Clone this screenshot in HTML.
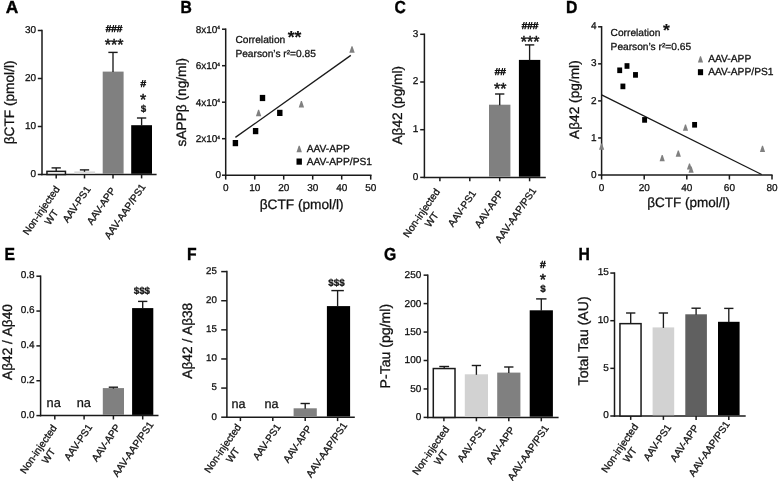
<!DOCTYPE html>
<html><head><meta charset="utf-8"><title>Figure</title>
<style>
html,body{margin:0;padding:0;background:#fff;}
body{width:778px;height:481px;overflow:hidden;font-family:"Liberation Sans", sans-serif;}
svg{display:block;font-family:"Liberation Sans", sans-serif;filter:grayscale(1);}
</style></head><body>
<svg width="778" height="481" viewBox="0 0 778 481" text-rendering="geometricPrecision">
<rect width="778" height="481" fill="#fff"/>
<text transform="translate(5.70,12.90) scale(1.0,1.0)" font-size="17.4" font-weight="bold" fill="#000" stroke="#000" stroke-width="0.4">A</text>
<line x1="42.00" y1="175.25" x2="42.00" y2="29.75" stroke="#1a1a1a" stroke-width="1.5"/>
<line x1="37.80" y1="174.50" x2="42.00" y2="174.50" stroke="#1a1a1a" stroke-width="1.5"/>
<text x="36.00" y="176.70" font-size="10.0" text-anchor="end" font-weight="normal" fill="#111" stroke="#111" stroke-width="0.28" >0</text>
<line x1="37.80" y1="126.50" x2="42.00" y2="126.50" stroke="#1a1a1a" stroke-width="1.5"/>
<text x="36.00" y="128.70" font-size="10.0" text-anchor="end" font-weight="normal" fill="#111" stroke="#111" stroke-width="0.28" >10</text>
<line x1="37.80" y1="78.50" x2="42.00" y2="78.50" stroke="#1a1a1a" stroke-width="1.5"/>
<text x="36.00" y="80.70" font-size="10.0" text-anchor="end" font-weight="normal" fill="#111" stroke="#111" stroke-width="0.28" >20</text>
<line x1="37.80" y1="30.50" x2="42.00" y2="30.50" stroke="#1a1a1a" stroke-width="1.5"/>
<text x="36.00" y="32.70" font-size="10.0" text-anchor="end" font-weight="normal" fill="#111" stroke="#111" stroke-width="0.28" >30</text>
<line x1="41.35" y1="174.50" x2="156.60" y2="174.50" stroke="#1a1a1a" stroke-width="1.5"/>
<line x1="56.20" y1="174.50" x2="56.20" y2="178.40" stroke="#1a1a1a" stroke-width="1.5"/>
<line x1="84.50" y1="174.50" x2="84.50" y2="178.40" stroke="#1a1a1a" stroke-width="1.5"/>
<line x1="113.00" y1="174.50" x2="113.00" y2="178.40" stroke="#1a1a1a" stroke-width="1.5"/>
<line x1="141.60" y1="174.50" x2="141.60" y2="178.40" stroke="#1a1a1a" stroke-width="1.5"/>
<rect x="46.95" y="171.35" width="18.50" height="3.15" fill="#fff" stroke="#1a1a1a" stroke-width="1.5"/>
<line x1="56.20" y1="171.10" x2="56.20" y2="167.90" stroke="#1a1a1a" stroke-width="1.35"/>
<line x1="51.55" y1="167.90" x2="60.85" y2="167.90" stroke="#1a1a1a" stroke-width="1.4"/>
<rect x="74.30" y="171.40" width="20.80" height="2.40" fill="#dadada"/>
<line x1="84.50" y1="171.80" x2="84.50" y2="169.90" stroke="#1a1a1a" stroke-width="1.35"/>
<line x1="79.85" y1="169.90" x2="89.15" y2="169.90" stroke="#1a1a1a" stroke-width="1.4"/>
<rect x="102.70" y="71.60" width="20.90" height="102.20" fill="#808080"/>
<line x1="113.00" y1="72.10" x2="113.00" y2="52.40" stroke="#1a1a1a" stroke-width="1.35"/>
<line x1="108.35" y1="52.40" x2="117.65" y2="52.40" stroke="#1a1a1a" stroke-width="1.4"/>
<rect x="131.20" y="125.20" width="20.80" height="48.60" fill="#000"/>
<line x1="141.60" y1="125.70" x2="141.60" y2="118.00" stroke="#1a1a1a" stroke-width="1.35"/>
<line x1="136.95" y1="118.00" x2="146.25" y2="118.00" stroke="#1a1a1a" stroke-width="1.4"/>
<text x="114.10" y="32.20" font-size="10" text-anchor="middle" font-weight="normal" fill="#111" stroke="#111" stroke-width="0.55" >###</text>
<text x="114.10" y="50.30" font-size="16.0" text-anchor="middle" font-weight="normal" fill="#111" stroke="#111" stroke-width="0.45" >***</text>
<text x="143.20" y="86.80" font-size="10" text-anchor="middle" font-weight="normal" fill="#111" stroke="#111" stroke-width="0.55" >#</text>
<text x="143.20" y="105.20" font-size="16.0" text-anchor="middle" font-weight="normal" fill="#111" stroke="#111" stroke-width="0.45" >*</text>
<text x="143.50" y="111.50" font-size="9.8" text-anchor="middle" font-weight="bold" fill="#111" stroke="#111" stroke-width="0.25" >$</text>
<text transform="translate(13.80,102.40) rotate(-90)" font-size="13.7" text-anchor="middle" font-weight="normal" fill="#111" stroke="#111" stroke-width="0.3">βCTF (pmol/l)</text>
<g transform="translate(60.10,189.10) rotate(-55.5)" font-size="10.1" fill="#111" stroke="#111" stroke-width="0.3"><text x="0" y="0" text-anchor="end">Non-injected</text><text x="-28.20" y="12.21" text-anchor="middle">WT</text></g>
<text transform="translate(91.10,189.20) rotate(-55.5)" font-size="10.1" text-anchor="end" font-weight="normal" fill="#111" stroke="#111" stroke-width="0.3">AAV-PS1</text>
<text transform="translate(116.00,190.40) rotate(-55.5)" font-size="10.1" text-anchor="end" font-weight="normal" fill="#111" stroke="#111" stroke-width="0.3">AAV-APP</text>
<text transform="translate(146.00,186.80) rotate(-55.5)" font-size="10.1" text-anchor="end" font-weight="normal" fill="#111" stroke="#111" stroke-width="0.3">AAV-AAP/PS1</text>
<text transform="translate(180.40,12.60) scale(0.93,1.03)" font-size="16.9" font-weight="bold" fill="#000" stroke="#000" stroke-width="0.4">B</text>
<line x1="225.70" y1="175.95" x2="225.70" y2="28.45" stroke="#1a1a1a" stroke-width="1.5"/>
<line x1="222.00" y1="175.20" x2="225.70" y2="175.20" stroke="#1a1a1a" stroke-width="1.5"/>
<text x="221.10" y="177.90" font-size="10" text-anchor="end" font-weight="normal" fill="#111" stroke="#111" stroke-width="0.28" >0</text>
<line x1="222.00" y1="138.70" x2="225.70" y2="138.70" stroke="#1a1a1a" stroke-width="1.5"/>
<text x="220.00" y="142.20" font-size="10" text-anchor="end" font-weight="normal" fill="#111" stroke="#111" stroke-width="0.28" >2x10<tspan font-size="4.8" dy="-3.6">4</tspan></text>
<line x1="222.00" y1="102.20" x2="225.70" y2="102.20" stroke="#1a1a1a" stroke-width="1.5"/>
<text x="220.00" y="105.70" font-size="10" text-anchor="end" font-weight="normal" fill="#111" stroke="#111" stroke-width="0.28" >4x10<tspan font-size="4.8" dy="-3.6">4</tspan></text>
<line x1="222.00" y1="65.70" x2="225.70" y2="65.70" stroke="#1a1a1a" stroke-width="1.5"/>
<text x="220.00" y="69.20" font-size="10" text-anchor="end" font-weight="normal" fill="#111" stroke="#111" stroke-width="0.28" >6x10<tspan font-size="4.8" dy="-3.6">4</tspan></text>
<line x1="222.00" y1="29.20" x2="225.70" y2="29.20" stroke="#1a1a1a" stroke-width="1.5"/>
<text x="220.00" y="32.70" font-size="10" text-anchor="end" font-weight="normal" fill="#111" stroke="#111" stroke-width="0.28" >8x10<tspan font-size="4.8" dy="-3.6">4</tspan></text>
<line x1="225.05" y1="175.20" x2="371.55" y2="175.20" stroke="#1a1a1a" stroke-width="1.5"/>
<line x1="225.70" y1="175.20" x2="225.70" y2="179.60" stroke="#1a1a1a" stroke-width="1.5"/>
<text x="225.70" y="190.80" font-size="10" text-anchor="middle" font-weight="normal" fill="#111" stroke="#111" stroke-width="0.28" >0</text>
<line x1="254.70" y1="175.20" x2="254.70" y2="179.60" stroke="#1a1a1a" stroke-width="1.5"/>
<text x="254.70" y="190.80" font-size="10" text-anchor="middle" font-weight="normal" fill="#111" stroke="#111" stroke-width="0.28" >10</text>
<line x1="283.70" y1="175.20" x2="283.70" y2="179.60" stroke="#1a1a1a" stroke-width="1.5"/>
<text x="283.70" y="190.80" font-size="10" text-anchor="middle" font-weight="normal" fill="#111" stroke="#111" stroke-width="0.28" >20</text>
<line x1="312.70" y1="175.20" x2="312.70" y2="179.60" stroke="#1a1a1a" stroke-width="1.5"/>
<text x="312.70" y="190.80" font-size="10" text-anchor="middle" font-weight="normal" fill="#111" stroke="#111" stroke-width="0.28" >30</text>
<line x1="341.70" y1="175.20" x2="341.70" y2="179.60" stroke="#1a1a1a" stroke-width="1.5"/>
<text x="341.70" y="190.80" font-size="10" text-anchor="middle" font-weight="normal" fill="#111" stroke="#111" stroke-width="0.28" >40</text>
<line x1="370.70" y1="175.20" x2="370.70" y2="179.60" stroke="#1a1a1a" stroke-width="1.5"/>
<text x="370.70" y="190.80" font-size="10" text-anchor="middle" font-weight="normal" fill="#111" stroke="#111" stroke-width="0.28" >50</text>
<text x="301.60" y="208.50" font-size="13.7" text-anchor="middle" font-weight="normal" fill="#111" stroke="#111" stroke-width="0.28" >βCTF (pmol/l)</text>
<text x="235.40" y="43.00" font-size="10.2" text-anchor="start" font-weight="normal" fill="#111" stroke="#111" stroke-width="0.28" >Correlation</text>
<text x="287.70" y="43.00" font-size="17.5" text-anchor="start" font-weight="bold" fill="#111" stroke="#111" stroke-width="0.15" >**</text>
<text x="235.40" y="57.20" font-size="10.2" text-anchor="start" font-weight="normal" fill="#111" stroke="#111" stroke-width="0.28" >Pearson’s r²=0.85</text>
<line x1="235.40" y1="137.40" x2="350.80" y2="55.40" stroke="#1a1a1a" stroke-width="1.3"/>
<rect x="232.70" y="140.00" width="5.4" height="6.21" fill="#000"/>
<rect x="252.90" y="127.99" width="5.4" height="6.21" fill="#000"/>
<rect x="259.80" y="94.89" width="5.4" height="6.21" fill="#000"/>
<rect x="277.10" y="109.80" width="5.4" height="6.21" fill="#000"/>
<polygon points="258.10,109.76 259.10,109.76 261.30,116.24 255.90,116.24" fill="#808080"/>
<polygon points="300.90,100.96 301.90,100.96 304.10,107.44 298.70,107.44" fill="#808080"/>
<polygon points="351.50,46.16 352.50,46.16 354.70,52.64 349.30,52.64" fill="#808080"/>
<polygon points="298.70,145.86 299.70,145.86 301.90,152.34 296.50,152.34" fill="#808080"/>
<text x="306.70" y="151.90" font-size="10.25" text-anchor="start" font-weight="normal" fill="#111" stroke="#111" stroke-width="0.28" >AAV-APP</text>
<rect x="296.50" y="158.50" width="5.4" height="6.21" fill="#000"/>
<text x="306.70" y="165.40" font-size="10.25" text-anchor="start" font-weight="normal" fill="#111" stroke="#111" stroke-width="0.28" >AAV-APP/PS1</text>
<text transform="translate(185.60,102.20) rotate(-90)" font-size="13.7" text-anchor="middle" font-weight="normal" fill="#111" stroke="#111" stroke-width="0.3">sAPPβ (ng/ml)</text>
<text transform="translate(394.40,13.00) scale(0.93,1.03)" font-size="16.9" font-weight="bold" fill="#000" stroke="#000" stroke-width="0.4">C</text>
<line x1="424.40" y1="178.15" x2="424.40" y2="33.55" stroke="#1a1a1a" stroke-width="1.5"/>
<line x1="420.20" y1="177.40" x2="424.40" y2="177.40" stroke="#1a1a1a" stroke-width="1.5"/>
<text x="418.40" y="179.60" font-size="10.0" text-anchor="end" font-weight="normal" fill="#111" stroke="#111" stroke-width="0.28" >0</text>
<line x1="420.20" y1="129.70" x2="424.40" y2="129.70" stroke="#1a1a1a" stroke-width="1.5"/>
<text x="418.40" y="131.90" font-size="10.0" text-anchor="end" font-weight="normal" fill="#111" stroke="#111" stroke-width="0.28" >1</text>
<line x1="420.20" y1="82.00" x2="424.40" y2="82.00" stroke="#1a1a1a" stroke-width="1.5"/>
<text x="418.40" y="84.20" font-size="10.0" text-anchor="end" font-weight="normal" fill="#111" stroke="#111" stroke-width="0.28" >2</text>
<line x1="420.20" y1="34.30" x2="424.40" y2="34.30" stroke="#1a1a1a" stroke-width="1.5"/>
<text x="418.40" y="36.50" font-size="10.0" text-anchor="end" font-weight="normal" fill="#111" stroke="#111" stroke-width="0.28" >3</text>
<line x1="423.75" y1="177.40" x2="545.80" y2="177.40" stroke="#1a1a1a" stroke-width="1.5"/>
<line x1="439.90" y1="177.40" x2="439.90" y2="181.30" stroke="#1a1a1a" stroke-width="1.5"/>
<line x1="469.80" y1="177.40" x2="469.80" y2="181.30" stroke="#1a1a1a" stroke-width="1.5"/>
<line x1="499.70" y1="177.40" x2="499.70" y2="181.30" stroke="#1a1a1a" stroke-width="1.5"/>
<line x1="529.60" y1="177.40" x2="529.60" y2="181.30" stroke="#1a1a1a" stroke-width="1.5"/>
<rect x="489.00" y="104.70" width="21.40" height="72.00" fill="#808080"/>
<line x1="499.70" y1="105.20" x2="499.70" y2="94.00" stroke="#1a1a1a" stroke-width="1.35"/>
<line x1="495.05" y1="94.00" x2="504.35" y2="94.00" stroke="#1a1a1a" stroke-width="1.4"/>
<rect x="518.90" y="59.90" width="21.40" height="116.80" fill="#000"/>
<line x1="529.60" y1="60.40" x2="529.60" y2="44.90" stroke="#1a1a1a" stroke-width="1.35"/>
<line x1="524.95" y1="44.90" x2="534.25" y2="44.90" stroke="#1a1a1a" stroke-width="1.4"/>
<text x="500.20" y="75.40" font-size="10" text-anchor="middle" font-weight="normal" fill="#111" stroke="#111" stroke-width="0.55" >##</text>
<text x="500.20" y="94.00" font-size="16.0" text-anchor="middle" font-weight="normal" fill="#111" stroke="#111" stroke-width="0.45" >**</text>
<text x="530.10" y="28.90" font-size="10" text-anchor="middle" font-weight="normal" fill="#111" stroke="#111" stroke-width="0.55" >###</text>
<text x="530.20" y="47.30" font-size="16.0" text-anchor="middle" font-weight="normal" fill="#111" stroke="#111" stroke-width="0.45" >***</text>
<text transform="translate(401.50,105.20) rotate(-90)" font-size="13.7" text-anchor="middle" font-weight="normal" fill="#111" stroke="#111" stroke-width="0.3">Aβ42 (pg/ml)</text>
<g transform="translate(440.40,191.50) rotate(-55.5)" font-size="10.1" fill="#111" stroke="#111" stroke-width="0.3"><text x="0" y="0" text-anchor="end">Non-injected</text><text x="-28.20" y="12.21" text-anchor="middle">WT</text></g>
<text transform="translate(476.50,193.40) rotate(-55.5)" font-size="10.1" text-anchor="end" font-weight="normal" fill="#111" stroke="#111" stroke-width="0.3">AAV-PS1</text>
<text transform="translate(503.80,193.50) rotate(-55.5)" font-size="10.1" text-anchor="end" font-weight="normal" fill="#111" stroke="#111" stroke-width="0.3">AAV-APP</text>
<text transform="translate(536.80,190.50) rotate(-55.5)" font-size="10.1" text-anchor="end" font-weight="normal" fill="#111" stroke="#111" stroke-width="0.3">AAV-AAP/PS1</text>
<text transform="translate(566.00,12.80) scale(0.93,1.03)" font-size="16.9" font-weight="bold" fill="#000" stroke="#000" stroke-width="0.4">D</text>
<line x1="601.60" y1="175.75" x2="601.60" y2="26.05" stroke="#1a1a1a" stroke-width="1.5"/>
<line x1="598.10" y1="175.00" x2="601.60" y2="175.00" stroke="#1a1a1a" stroke-width="1.5"/>
<text x="596.60" y="177.60" font-size="10.0" text-anchor="end" font-weight="normal" fill="#111" stroke="#111" stroke-width="0.28" >0</text>
<line x1="598.10" y1="137.95" x2="601.60" y2="137.95" stroke="#1a1a1a" stroke-width="1.5"/>
<text x="596.60" y="140.55" font-size="10.0" text-anchor="end" font-weight="normal" fill="#111" stroke="#111" stroke-width="0.28" >1</text>
<line x1="598.10" y1="100.90" x2="601.60" y2="100.90" stroke="#1a1a1a" stroke-width="1.5"/>
<text x="596.60" y="103.50" font-size="10.0" text-anchor="end" font-weight="normal" fill="#111" stroke="#111" stroke-width="0.28" >2</text>
<line x1="598.10" y1="63.85" x2="601.60" y2="63.85" stroke="#1a1a1a" stroke-width="1.5"/>
<text x="596.60" y="66.45" font-size="10.0" text-anchor="end" font-weight="normal" fill="#111" stroke="#111" stroke-width="0.28" >3</text>
<line x1="598.10" y1="26.80" x2="601.60" y2="26.80" stroke="#1a1a1a" stroke-width="1.5"/>
<text x="596.60" y="29.40" font-size="10.0" text-anchor="end" font-weight="normal" fill="#111" stroke="#111" stroke-width="0.28" >4</text>
<line x1="600.95" y1="175.00" x2="772.55" y2="175.00" stroke="#1a1a1a" stroke-width="1.5"/>
<line x1="601.60" y1="175.00" x2="601.60" y2="179.50" stroke="#1a1a1a" stroke-width="1.5"/>
<text x="601.60" y="190.80" font-size="10" text-anchor="middle" font-weight="normal" fill="#111" stroke="#111" stroke-width="0.28" >0</text>
<line x1="644.20" y1="175.00" x2="644.20" y2="179.50" stroke="#1a1a1a" stroke-width="1.5"/>
<text x="644.20" y="190.80" font-size="10" text-anchor="middle" font-weight="normal" fill="#111" stroke="#111" stroke-width="0.28" >20</text>
<line x1="686.80" y1="175.00" x2="686.80" y2="179.50" stroke="#1a1a1a" stroke-width="1.5"/>
<text x="686.80" y="190.80" font-size="10" text-anchor="middle" font-weight="normal" fill="#111" stroke="#111" stroke-width="0.28" >40</text>
<line x1="729.40" y1="175.00" x2="729.40" y2="179.50" stroke="#1a1a1a" stroke-width="1.5"/>
<text x="729.40" y="190.80" font-size="10" text-anchor="middle" font-weight="normal" fill="#111" stroke="#111" stroke-width="0.28" >60</text>
<line x1="772.00" y1="175.00" x2="772.00" y2="179.50" stroke="#1a1a1a" stroke-width="1.5"/>
<text x="772.00" y="190.80" font-size="10" text-anchor="middle" font-weight="normal" fill="#111" stroke="#111" stroke-width="0.28" >80</text>
<text x="688.70" y="207.00" font-size="13.5" text-anchor="middle" font-weight="normal" fill="#111" stroke="#111" stroke-width="0.28" >βCTF (pmol/l)</text>
<text x="610.60" y="35.70" font-size="10.2" text-anchor="start" font-weight="normal" fill="#111" stroke="#111" stroke-width="0.28" >Correlation</text>
<text x="662.90" y="36.20" font-size="17.5" text-anchor="start" font-weight="bold" fill="#111" stroke="#111" stroke-width="0.15" >*</text>
<text x="610.60" y="49.60" font-size="10.2" text-anchor="start" font-weight="normal" fill="#111" stroke="#111" stroke-width="0.28" >Pearson’s r²=0.65</text>
<line x1="601.60" y1="94.90" x2="761.70" y2="174.50" stroke="#1a1a1a" stroke-width="1.3"/>
<rect x="617.25" y="67.48" width="4.9" height="5.63" fill="#000"/>
<rect x="624.55" y="63.18" width="4.9" height="5.63" fill="#000"/>
<rect x="633.05" y="72.08" width="4.9" height="5.63" fill="#000"/>
<rect x="620.45" y="83.58" width="4.9" height="5.63" fill="#000"/>
<rect x="642.15" y="117.08" width="4.9" height="5.63" fill="#000"/>
<rect x="692.15" y="121.98" width="4.9" height="5.63" fill="#000"/>
<polygon points="601.10,143.58 602.10,143.58 604.20,149.82 599.00,149.82" fill="#808080"/>
<polygon points="661.70,155.08 662.70,155.08 664.80,161.32 659.60,161.32" fill="#808080"/>
<polygon points="677.80,150.48 678.80,150.48 680.90,156.72 675.70,156.72" fill="#808080"/>
<polygon points="685.00,124.58 686.00,124.58 688.10,130.82 682.90,130.82" fill="#808080"/>
<polygon points="689.00,163.38 690.00,163.38 692.10,169.62 686.90,169.62" fill="#808080"/>
<polygon points="690.60,166.58 691.60,166.58 693.70,172.82 688.50,172.82" fill="#808080"/>
<polygon points="762.00,145.68 763.00,145.68 765.10,151.92 759.90,151.92" fill="#808080"/>
<polygon points="700.00,56.28 701.00,56.28 703.10,62.52 697.90,62.52" fill="#808080"/>
<text x="708.20" y="61.60" font-size="10.25" text-anchor="start" font-weight="normal" fill="#111" stroke="#111" stroke-width="0.28" >AAV-APP</text>
<rect x="697.90" y="69.21" width="5.2" height="5.98" fill="#000"/>
<text x="708.20" y="75.00" font-size="10.25" text-anchor="start" font-weight="normal" fill="#111" stroke="#111" stroke-width="0.28" >AAV-APP/PS1</text>
<text transform="translate(579.00,99.60) rotate(-90)" font-size="13.7" text-anchor="middle" font-weight="normal" fill="#111" stroke="#111" stroke-width="0.3">Aβ42 (pg/ml)</text>
<text transform="translate(4.60,260.00) scale(0.93,1.03)" font-size="16.9" font-weight="bold" fill="#000" stroke="#000" stroke-width="0.4">E</text>
<line x1="40.60" y1="416.35" x2="40.60" y2="275.45" stroke="#1a1a1a" stroke-width="1.5"/>
<line x1="36.40" y1="415.60" x2="40.60" y2="415.60" stroke="#1a1a1a" stroke-width="1.5"/>
<text x="34.60" y="417.80" font-size="10.0" text-anchor="end" font-weight="normal" fill="#111" stroke="#111" stroke-width="0.28" >0.0</text>
<line x1="36.40" y1="380.75" x2="40.60" y2="380.75" stroke="#1a1a1a" stroke-width="1.5"/>
<text x="34.60" y="382.95" font-size="10.0" text-anchor="end" font-weight="normal" fill="#111" stroke="#111" stroke-width="0.28" >0.2</text>
<line x1="36.40" y1="345.90" x2="40.60" y2="345.90" stroke="#1a1a1a" stroke-width="1.5"/>
<text x="34.60" y="348.10" font-size="10.0" text-anchor="end" font-weight="normal" fill="#111" stroke="#111" stroke-width="0.28" >0.4</text>
<line x1="36.40" y1="311.05" x2="40.60" y2="311.05" stroke="#1a1a1a" stroke-width="1.5"/>
<text x="34.60" y="313.25" font-size="10.0" text-anchor="end" font-weight="normal" fill="#111" stroke="#111" stroke-width="0.28" >0.6</text>
<line x1="36.40" y1="276.20" x2="40.60" y2="276.20" stroke="#1a1a1a" stroke-width="1.5"/>
<text x="34.60" y="278.40" font-size="10.0" text-anchor="end" font-weight="normal" fill="#111" stroke="#111" stroke-width="0.28" >0.8</text>
<line x1="39.95" y1="415.60" x2="158.50" y2="415.60" stroke="#1a1a1a" stroke-width="1.5"/>
<line x1="54.80" y1="415.60" x2="54.80" y2="419.50" stroke="#1a1a1a" stroke-width="1.5"/>
<line x1="84.10" y1="415.60" x2="84.10" y2="419.50" stroke="#1a1a1a" stroke-width="1.5"/>
<line x1="113.40" y1="415.60" x2="113.40" y2="419.50" stroke="#1a1a1a" stroke-width="1.5"/>
<line x1="142.70" y1="415.60" x2="142.70" y2="419.50" stroke="#1a1a1a" stroke-width="1.5"/>
<rect x="102.80" y="388.10" width="21.20" height="26.80" fill="#808080"/>
<line x1="113.40" y1="388.60" x2="113.40" y2="387.20" stroke="#1a1a1a" stroke-width="1.35"/>
<line x1="108.75" y1="387.20" x2="118.05" y2="387.20" stroke="#1a1a1a" stroke-width="1.4"/>
<rect x="132.10" y="308.10" width="21.20" height="106.80" fill="#000"/>
<line x1="142.70" y1="308.60" x2="142.70" y2="301.40" stroke="#1a1a1a" stroke-width="1.35"/>
<line x1="138.05" y1="301.40" x2="147.35" y2="301.40" stroke="#1a1a1a" stroke-width="1.4"/>
<text x="141.90" y="294.00" font-size="9.8" text-anchor="middle" font-weight="bold" fill="#111" stroke="#111" stroke-width="0.25" >$$$</text>
<text x="53.70" y="406.50" font-size="12.8" text-anchor="middle" font-weight="normal" fill="#111" stroke="#111" stroke-width="0.28" >na</text>
<text x="83.80" y="406.50" font-size="12.8" text-anchor="middle" font-weight="normal" fill="#111" stroke="#111" stroke-width="0.28" >na</text>
<text transform="translate(12.40,342.00) rotate(-90)" font-size="13.7" text-anchor="middle" font-weight="normal" fill="#111" stroke="#111" stroke-width="0.3">Aβ42 / Aβ40</text>
<g transform="translate(57.30,427.80) rotate(-55.5)" font-size="10.1" fill="#111" stroke="#111" stroke-width="0.3"><text x="0" y="0" text-anchor="end">Non-injected</text><text x="-28.20" y="12.21" text-anchor="middle">WT</text></g>
<text transform="translate(92.70,427.20) rotate(-55.5)" font-size="10.1" text-anchor="end" font-weight="normal" fill="#111" stroke="#111" stroke-width="0.3">AAV-PS1</text>
<text transform="translate(120.90,427.20) rotate(-55.5)" font-size="10.1" text-anchor="end" font-weight="normal" fill="#111" stroke="#111" stroke-width="0.3">AAV-APP</text>
<text transform="translate(153.90,424.50) rotate(-55.5)" font-size="10.1" text-anchor="end" font-weight="normal" fill="#111" stroke="#111" stroke-width="0.3">AAV-AAP/PS1</text>
<text transform="translate(187.00,260.00) scale(0.93,1.03)" font-size="16.9" font-weight="bold" fill="#000" stroke="#000" stroke-width="0.4">F</text>
<line x1="226.90" y1="417.95" x2="226.90" y2="270.85" stroke="#1a1a1a" stroke-width="1.5"/>
<line x1="221.20" y1="417.20" x2="226.90" y2="417.20" stroke="#1a1a1a" stroke-width="1.5"/>
<text x="216.90" y="419.59" font-size="9.7" text-anchor="end" font-weight="normal" fill="#111" stroke="#111" stroke-width="0.28" >0</text>
<line x1="221.20" y1="388.08" x2="226.90" y2="388.08" stroke="#1a1a1a" stroke-width="1.5"/>
<text x="216.90" y="390.47" font-size="9.7" text-anchor="end" font-weight="normal" fill="#111" stroke="#111" stroke-width="0.28" >5</text>
<line x1="221.20" y1="358.96" x2="226.90" y2="358.96" stroke="#1a1a1a" stroke-width="1.5"/>
<text x="216.90" y="361.35" font-size="9.7" text-anchor="end" font-weight="normal" fill="#111" stroke="#111" stroke-width="0.28" >10</text>
<line x1="221.20" y1="329.84" x2="226.90" y2="329.84" stroke="#1a1a1a" stroke-width="1.5"/>
<text x="216.90" y="332.23" font-size="9.7" text-anchor="end" font-weight="normal" fill="#111" stroke="#111" stroke-width="0.28" >15</text>
<line x1="221.20" y1="300.72" x2="226.90" y2="300.72" stroke="#1a1a1a" stroke-width="1.5"/>
<text x="216.90" y="303.11" font-size="9.7" text-anchor="end" font-weight="normal" fill="#111" stroke="#111" stroke-width="0.28" >20</text>
<line x1="221.20" y1="271.60" x2="226.90" y2="271.60" stroke="#1a1a1a" stroke-width="1.5"/>
<text x="216.90" y="273.99" font-size="9.7" text-anchor="end" font-weight="normal" fill="#111" stroke="#111" stroke-width="0.28" >25</text>
<line x1="226.25" y1="417.20" x2="354.80" y2="417.20" stroke="#1a1a1a" stroke-width="1.5"/>
<line x1="240.40" y1="417.20" x2="240.40" y2="421.10" stroke="#1a1a1a" stroke-width="1.5"/>
<line x1="272.80" y1="417.20" x2="272.80" y2="421.10" stroke="#1a1a1a" stroke-width="1.5"/>
<line x1="305.20" y1="417.20" x2="305.20" y2="421.10" stroke="#1a1a1a" stroke-width="1.5"/>
<line x1="337.60" y1="417.20" x2="337.60" y2="421.10" stroke="#1a1a1a" stroke-width="1.5"/>
<rect x="293.60" y="408.30" width="23.20" height="8.20" fill="#808080"/>
<line x1="305.20" y1="408.80" x2="305.20" y2="403.50" stroke="#1a1a1a" stroke-width="1.35"/>
<line x1="300.55" y1="403.50" x2="309.85" y2="403.50" stroke="#1a1a1a" stroke-width="1.4"/>
<rect x="326.90" y="306.10" width="23.20" height="110.40" fill="#000"/>
<line x1="337.60" y1="306.60" x2="337.60" y2="290.60" stroke="#1a1a1a" stroke-width="1.35"/>
<line x1="331.35" y1="290.60" x2="343.85" y2="290.60" stroke="#1a1a1a" stroke-width="1.4"/>
<text x="336.50" y="285.70" font-size="9.8" text-anchor="middle" font-weight="bold" fill="#111" stroke="#111" stroke-width="0.25" >$$$</text>
<text x="238.40" y="407.70" font-size="12.6" text-anchor="middle" font-weight="normal" fill="#111" stroke="#111" stroke-width="0.28" >na</text>
<text x="271.60" y="407.70" font-size="12.6" text-anchor="middle" font-weight="normal" fill="#111" stroke="#111" stroke-width="0.28" >na</text>
<text transform="translate(192.30,340.70) rotate(-90)" font-size="13.7" text-anchor="middle" font-weight="normal" fill="#111" stroke="#111" stroke-width="0.3">Aβ42 / Aβ38</text>
<g transform="translate(241.50,427.00) rotate(-55.5)" font-size="10.1" fill="#111" stroke="#111" stroke-width="0.3"><text x="0" y="0" text-anchor="end">Non-injected</text><text x="-28.20" y="12.21" text-anchor="middle">WT</text></g>
<text transform="translate(281.30,426.80) rotate(-55.5)" font-size="10.1" text-anchor="end" font-weight="normal" fill="#111" stroke="#111" stroke-width="0.3">AAV-PS1</text>
<text transform="translate(312.40,428.40) rotate(-55.5)" font-size="10.1" text-anchor="end" font-weight="normal" fill="#111" stroke="#111" stroke-width="0.3">AAV-APP</text>
<text transform="translate(347.70,425.30) rotate(-55.5)" font-size="10.1" text-anchor="end" font-weight="normal" fill="#111" stroke="#111" stroke-width="0.3">AAV-AAP/PS1</text>
<text transform="translate(384.00,260.00) scale(0.93,1.03)" font-size="16.9" font-weight="bold" fill="#000" stroke="#000" stroke-width="0.4">G</text>
<line x1="427.80" y1="418.15" x2="427.80" y2="274.40" stroke="#1a1a1a" stroke-width="1.5"/>
<line x1="423.60" y1="417.40" x2="427.80" y2="417.40" stroke="#1a1a1a" stroke-width="1.5"/>
<text x="421.30" y="420.30" font-size="10" text-anchor="end" font-weight="normal" fill="#111" stroke="#111" stroke-width="0.28" >0</text>
<line x1="423.60" y1="388.95" x2="427.80" y2="388.95" stroke="#1a1a1a" stroke-width="1.5"/>
<text x="421.30" y="391.85" font-size="10" text-anchor="end" font-weight="normal" fill="#111" stroke="#111" stroke-width="0.28" >50</text>
<line x1="423.60" y1="360.50" x2="427.80" y2="360.50" stroke="#1a1a1a" stroke-width="1.5"/>
<text x="421.30" y="363.40" font-size="10" text-anchor="end" font-weight="normal" fill="#111" stroke="#111" stroke-width="0.28" >100</text>
<line x1="423.60" y1="332.05" x2="427.80" y2="332.05" stroke="#1a1a1a" stroke-width="1.5"/>
<text x="421.30" y="334.95" font-size="10" text-anchor="end" font-weight="normal" fill="#111" stroke="#111" stroke-width="0.28" >150</text>
<line x1="423.60" y1="303.60" x2="427.80" y2="303.60" stroke="#1a1a1a" stroke-width="1.5"/>
<text x="421.30" y="306.50" font-size="10" text-anchor="end" font-weight="normal" fill="#111" stroke="#111" stroke-width="0.28" >200</text>
<line x1="423.60" y1="275.15" x2="427.80" y2="275.15" stroke="#1a1a1a" stroke-width="1.5"/>
<text x="421.30" y="278.05" font-size="10" text-anchor="end" font-weight="normal" fill="#111" stroke="#111" stroke-width="0.28" >250</text>
<line x1="427.15" y1="417.40" x2="558.60" y2="417.40" stroke="#1a1a1a" stroke-width="1.5"/>
<line x1="443.90" y1="417.40" x2="443.90" y2="421.30" stroke="#1a1a1a" stroke-width="1.5"/>
<line x1="476.40" y1="417.40" x2="476.40" y2="421.30" stroke="#1a1a1a" stroke-width="1.5"/>
<line x1="508.80" y1="417.40" x2="508.80" y2="421.30" stroke="#1a1a1a" stroke-width="1.5"/>
<line x1="541.30" y1="417.40" x2="541.30" y2="421.30" stroke="#1a1a1a" stroke-width="1.5"/>
<rect x="433.30" y="368.55" width="21.70" height="48.85" fill="#fff" stroke="#1a1a1a" stroke-width="1.5"/>
<line x1="444.20" y1="368.30" x2="444.20" y2="366.50" stroke="#1a1a1a" stroke-width="1.35"/>
<line x1="439.30" y1="366.50" x2="449.10" y2="366.50" stroke="#1a1a1a" stroke-width="1.4"/>
<rect x="464.80" y="374.30" width="23.20" height="42.40" fill="#d2d2d2"/>
<line x1="476.40" y1="374.80" x2="476.40" y2="365.50" stroke="#1a1a1a" stroke-width="1.35"/>
<line x1="471.75" y1="365.50" x2="481.05" y2="365.50" stroke="#1a1a1a" stroke-width="1.4"/>
<rect x="497.20" y="372.60" width="23.20" height="44.10" fill="#808080"/>
<line x1="508.80" y1="373.10" x2="508.80" y2="367.00" stroke="#1a1a1a" stroke-width="1.35"/>
<line x1="504.15" y1="367.00" x2="513.45" y2="367.00" stroke="#1a1a1a" stroke-width="1.4"/>
<rect x="529.70" y="310.30" width="23.20" height="106.40" fill="#000"/>
<line x1="541.30" y1="310.80" x2="541.30" y2="298.90" stroke="#1a1a1a" stroke-width="1.35"/>
<line x1="536.10" y1="298.90" x2="546.50" y2="298.90" stroke="#1a1a1a" stroke-width="1.4"/>
<text x="542.90" y="268.30" font-size="10.3" text-anchor="middle" font-weight="normal" fill="#111" stroke="#111" stroke-width="0.55" >#</text>
<text x="542.90" y="285.30" font-size="16.0" text-anchor="middle" font-weight="normal" fill="#111" stroke="#111" stroke-width="0.45" >*</text>
<text x="543.10" y="292.00" font-size="9.8" text-anchor="middle" font-weight="bold" fill="#111" stroke="#111" stroke-width="0.25" >$</text>
<text transform="translate(389.70,346.10) rotate(-90)" font-size="14.1" text-anchor="middle" font-weight="normal" fill="#111" stroke="#111" stroke-width="0.3">P-Tau (pg/ml)</text>
<g transform="translate(449.60,429.10) rotate(-55.5)" font-size="10.1" fill="#111" stroke="#111" stroke-width="0.3"><text x="0" y="0" text-anchor="end">Non-injected</text><text x="-28.20" y="12.21" text-anchor="middle">WT</text></g>
<text transform="translate(485.90,428.80) rotate(-55.5)" font-size="10.1" text-anchor="end" font-weight="normal" fill="#111" stroke="#111" stroke-width="0.3">AAV-PS1</text>
<text transform="translate(515.30,429.70) rotate(-55.5)" font-size="10.1" text-anchor="end" font-weight="normal" fill="#111" stroke="#111" stroke-width="0.3">AAV-APP</text>
<text transform="translate(549.30,428.10) rotate(-55.5)" font-size="10.1" text-anchor="end" font-weight="normal" fill="#111" stroke="#111" stroke-width="0.3">AAV-AAP/PS1</text>
<text transform="translate(578.60,259.80) scale(0.93,1.03)" font-size="16.9" font-weight="bold" fill="#000" stroke="#000" stroke-width="0.4">H</text>
<line x1="614.50" y1="416.75" x2="614.50" y2="272.30" stroke="#1a1a1a" stroke-width="1.5"/>
<line x1="610.30" y1="416.00" x2="614.50" y2="416.00" stroke="#1a1a1a" stroke-width="1.5"/>
<text x="608.90" y="418.40" font-size="10" text-anchor="end" font-weight="normal" fill="#111" stroke="#111" stroke-width="0.28" >0</text>
<line x1="610.30" y1="368.35" x2="614.50" y2="368.35" stroke="#1a1a1a" stroke-width="1.5"/>
<text x="608.90" y="370.75" font-size="10" text-anchor="end" font-weight="normal" fill="#111" stroke="#111" stroke-width="0.28" >5</text>
<line x1="610.30" y1="320.70" x2="614.50" y2="320.70" stroke="#1a1a1a" stroke-width="1.5"/>
<text x="608.90" y="323.10" font-size="10" text-anchor="end" font-weight="normal" fill="#111" stroke="#111" stroke-width="0.28" >10</text>
<line x1="610.30" y1="273.05" x2="614.50" y2="273.05" stroke="#1a1a1a" stroke-width="1.5"/>
<text x="608.90" y="275.45" font-size="10" text-anchor="end" font-weight="normal" fill="#111" stroke="#111" stroke-width="0.28" >15</text>
<line x1="613.85" y1="416.00" x2="745.70" y2="416.00" stroke="#1a1a1a" stroke-width="1.5"/>
<line x1="630.70" y1="416.00" x2="630.70" y2="419.90" stroke="#1a1a1a" stroke-width="1.5"/>
<line x1="663.40" y1="416.00" x2="663.40" y2="419.90" stroke="#1a1a1a" stroke-width="1.5"/>
<line x1="696.10" y1="416.00" x2="696.10" y2="419.90" stroke="#1a1a1a" stroke-width="1.5"/>
<line x1="728.80" y1="416.00" x2="728.80" y2="419.90" stroke="#1a1a1a" stroke-width="1.5"/>
<rect x="619.95" y="323.65" width="21.10" height="92.35" fill="#fff" stroke="#1a1a1a" stroke-width="1.5"/>
<line x1="630.70" y1="323.40" x2="630.70" y2="313.00" stroke="#1a1a1a" stroke-width="1.35"/>
<line x1="626.05" y1="313.00" x2="635.35" y2="313.00" stroke="#1a1a1a" stroke-width="1.4"/>
<rect x="652.60" y="327.40" width="21.60" height="87.90" fill="#d2d2d2"/>
<line x1="663.40" y1="327.90" x2="663.40" y2="313.00" stroke="#1a1a1a" stroke-width="1.35"/>
<line x1="658.75" y1="313.00" x2="668.05" y2="313.00" stroke="#1a1a1a" stroke-width="1.4"/>
<rect x="685.30" y="314.30" width="21.60" height="101.00" fill="#606060"/>
<line x1="696.10" y1="314.80" x2="696.10" y2="308.20" stroke="#1a1a1a" stroke-width="1.35"/>
<line x1="691.45" y1="308.20" x2="700.75" y2="308.20" stroke="#1a1a1a" stroke-width="1.4"/>
<rect x="718.00" y="321.80" width="21.60" height="93.50" fill="#000"/>
<line x1="728.80" y1="322.30" x2="728.80" y2="308.40" stroke="#1a1a1a" stroke-width="1.35"/>
<line x1="724.15" y1="308.40" x2="733.45" y2="308.40" stroke="#1a1a1a" stroke-width="1.4"/>
<text transform="translate(588.20,340.90) rotate(-90)" font-size="14.1" text-anchor="middle" font-weight="normal" fill="#111" stroke="#111" stroke-width="0.3">Total Tau (AU)</text>
<g transform="translate(638.70,426.70) rotate(-55.5)" font-size="10.1" fill="#111" stroke="#111" stroke-width="0.3"><text x="0" y="0" text-anchor="end">Non-injected</text><text x="-28.20" y="12.21" text-anchor="middle">WT</text></g>
<text transform="translate(671.80,427.40) rotate(-55.5)" font-size="10.1" text-anchor="end" font-weight="normal" fill="#111" stroke="#111" stroke-width="0.3">AAV-PS1</text>
<text transform="translate(699.20,427.60) rotate(-55.5)" font-size="10.1" text-anchor="end" font-weight="normal" fill="#111" stroke="#111" stroke-width="0.3">AAV-APP</text>
<text transform="translate(730.30,424.10) rotate(-55.5)" font-size="10.1" text-anchor="end" font-weight="normal" fill="#111" stroke="#111" stroke-width="0.3">AAV-AAP/PS1</text>
</svg>
</body></html>
